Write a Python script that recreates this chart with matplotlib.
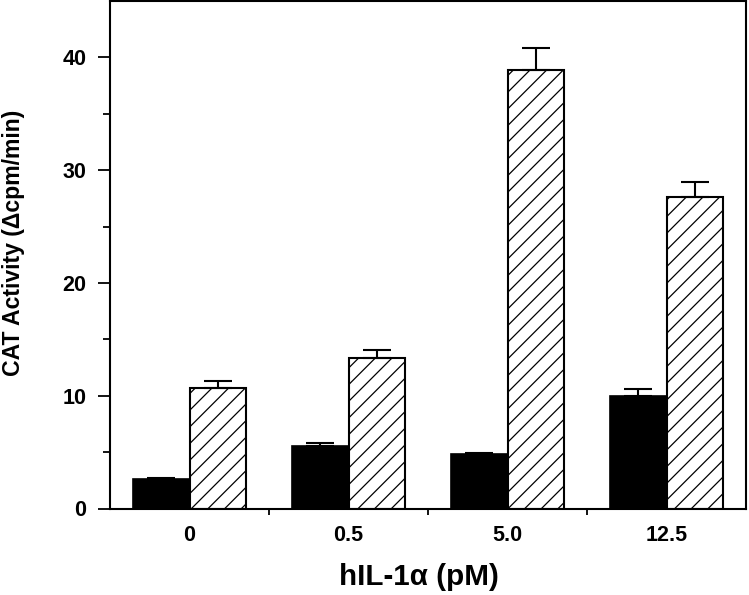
import matplotlib
matplotlib.use("Agg")
import matplotlib.pyplot as plt
import numpy as np

categories = ["0", "0.5", "5.0", "12.5"]
solid_vals = [2.6, 5.55, 4.8, 10.0]
solid_err = [0.1, 0.3, 0.1, 0.6]
hatch_vals = [10.7, 13.35, 38.9, 27.65]
hatch_err = [0.6, 0.72, 1.9, 1.33]

plt.rcParams['font.family'] = ['Liberation Sans', 'DejaVu Sans']
plt.rcParams['font.weight'] = 'bold'
plt.rcParams['hatch.linewidth'] = 0.9

fig = plt.figure(figsize=(7.49, 5.95), dpi=100)
ax = fig.add_axes([110/749, (595-508.5)/595, (746-110)/749, (508.5-1)/595])

x = np.arange(len(categories)) + 0.5
w = 0.357
ax.bar(x - w/2, solid_vals, w, color='black', edgecolor='black', linewidth=1.2,
       yerr=[np.zeros(4), solid_err], capsize=10,
       error_kw=dict(ecolor='black', elinewidth=1.5, capthick=1.5))
ax.bar(x + w/2, hatch_vals, w, color='white', edgecolor='black', linewidth=1.5,
       hatch='//',
       yerr=[np.zeros(4), hatch_err], capsize=10,
       error_kw=dict(ecolor='black', elinewidth=1.5, capthick=1.5))

ax.set_xlim(0, 4)
ax.set_ylim(0, 45)
ax.set_yticks([0, 10, 20, 30, 40])
ax.set_yticks([5, 15, 25, 35], minor=True)
ax.tick_params(axis='y', which='major', direction='out', length=9, width=1.3,
               labelsize=15.5, pad=8)
ax.tick_params(axis='y', which='minor', direction='out', length=5, width=1.3)
ax.set_xticks([1, 2, 3])
ax.set_xticklabels([])
ax.set_xticks(x, minor=True)
ax.set_xticklabels(categories, minor=True)
ax.tick_params(axis='x', which='major', direction='out', length=4, width=1.3)
ax.tick_params(axis='x', which='minor', length=0, labelsize=15.5, pad=12)
for lbl in ax.get_xticklabels(minor=True) + ax.get_yticklabels():
    lbl.set_fontweight('bold')

for s in ax.spines.values():
    s.set_linewidth(1.5)

ax.set_ylabel("CAT Activity (\u0394cpm/min)", fontsize=16.6, fontweight='bold')
ax.yaxis.set_label_coords(-0.151, (508.5-243)/507.5)
ax.set_xlabel("hIL-1\u03b1 (pM)", fontsize=21.3, fontweight='bold')
ax.xaxis.set_label_coords((419-110)/636, -(577-508.5)/507.5)
ax.xaxis.label.set_verticalalignment('center')
ax.yaxis.label.set_verticalalignment('center')

fig.savefig("out.png", dpi=100)
